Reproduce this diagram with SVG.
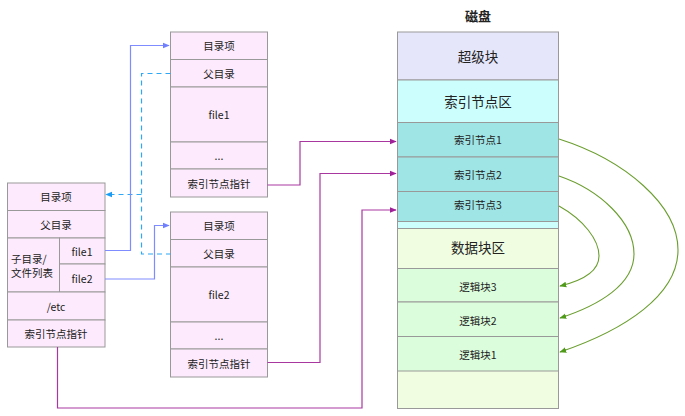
<svg xmlns="http://www.w3.org/2000/svg" width="685" height="416" viewBox="0 0 685 416">
<defs>
<style>
text{font-family:"Noto Sans CJK SC","Liberation Sans",sans-serif;fill:#222;text-anchor:middle;dominant-baseline:central}
.s{font-size:10.5px}
.h{font-size:13.5px}
.cell{stroke:#999;stroke-width:1}
.pk{fill:#fdebfd}
.sb{fill:#e6e6fb}
.ic{fill:#ccfefe}
.in{fill:#a0e5e5}
.dz{fill:#f0fde0}
.lb{fill:#dbfddb}
.pu{fill:none;stroke:#a8389f;stroke-width:1.2}
.bl{fill:none;stroke:#7f8cff;stroke-width:1.2}
.da{fill:none;stroke:#2ea7f5;stroke-width:1.2;stroke-dasharray:5,4}
.gr{fill:none;stroke:#6a9e2e;stroke-width:1.1}
</style>
<marker id="ap" viewBox="0 0 10 10" refX="9" refY="5" markerWidth="7" markerHeight="7" orient="auto" markerUnits="userSpaceOnUse"><path d="M0,1 L10,5 L0,9 Z" fill="#a0209a"/></marker>
<marker id="ab" viewBox="0 0 10 10" refX="9" refY="5" markerWidth="7" markerHeight="7" orient="auto" markerUnits="userSpaceOnUse"><path d="M0,1 L10,5 L0,9 Z" fill="#6f7fff"/></marker>
<marker id="ad" viewBox="0 0 10 10" refX="9" refY="5" markerWidth="7" markerHeight="7" orient="auto" markerUnits="userSpaceOnUse"><path d="M0,1 L10,5 L0,9 Z" fill="#1a9cf5"/></marker>
<marker id="ag" viewBox="0 0 10 10" refX="9" refY="5" markerWidth="7" markerHeight="7" orient="auto" markerUnits="userSpaceOnUse"><path d="M0,1 L10,5 L0,9 Z" fill="#4f9a1a"/></marker>
</defs>

<g id="root-dir">
<rect class="cell pk" x="7.5" y="183" width="97.5" height="27.5"/>
<text class="s" x="56" y="196.5">目录项</text>
<rect class="cell pk" x="7.5" y="210.5" width="97.5" height="27.5"/>
<text class="s" x="56" y="224">父目录</text>
<rect class="cell pk" x="7.5" y="238" width="52" height="54"/>
<text class="s" x="33" y="258" style="text-anchor:start" dx="-22">子目录/</text>
<text class="s" x="33" y="272" style="text-anchor:start" dx="-22">文件列表</text>
<rect class="cell pk" x="59.5" y="238" width="45.5" height="26"/>
<text class="s" x="82" y="251">file1</text>
<rect class="cell pk" x="59.5" y="264" width="45.5" height="28"/>
<text class="s" x="82" y="278">file2</text>
<rect class="cell pk" x="7.5" y="292" width="97.5" height="28"/>
<text class="s" x="56" y="306">/etc</text>
<rect class="cell pk" x="7.5" y="320" width="97.5" height="27"/>
<text class="s" x="56" y="333.5">索引节点指针</text>
</g>

<g id="file1-entry">
<rect class="cell pk" x="170.5" y="32" width="97" height="27.5"/>
<text class="s" x="219" y="45.5">目录项</text>
<rect class="cell pk" x="170.5" y="59.5" width="97" height="27.5"/>
<text class="s" x="219" y="73">父目录</text>
<rect class="cell pk" x="170.5" y="87" width="97" height="55"/>
<text class="s" x="219" y="114.5">file1</text>
<rect class="cell pk" x="170.5" y="142" width="97" height="27"/>
<text class="s" x="219" y="155.5">...</text>
<rect class="cell pk" x="170.5" y="169" width="97" height="28"/>
<text class="s" x="219" y="183">索引节点指针</text>
</g>

<g id="file2-entry">
<rect class="cell pk" x="170.5" y="212" width="97" height="27.5"/>
<text class="s" x="219" y="225.5">目录项</text>
<rect class="cell pk" x="170.5" y="239.5" width="97" height="27.5"/>
<text class="s" x="219" y="253">父目录</text>
<rect class="cell pk" x="170.5" y="267" width="97" height="55"/>
<text class="s" x="219" y="294.5">file2</text>
<rect class="cell pk" x="170.5" y="322" width="97" height="27"/>
<text class="s" x="219" y="335.5">...</text>
<rect class="cell pk" x="170.5" y="349" width="97" height="28"/>
<text class="s" x="219" y="363">索引节点指针</text>
</g>

<g id="disk">
<text x="478" y="15" style="font-size:13px;font-weight:bold">磁盘</text>
<rect class="cell sb" x="397.5" y="32" width="161" height="48"/>
<text class="h" x="478" y="56">超级块</text>
<rect class="cell ic" x="397.5" y="80" width="161" height="148.5"/>
<text class="h" x="478" y="101">索引节点区</text>
<rect class="cell in" x="397.5" y="122.5" width="161" height="34.5"/>
<text class="s" x="478" y="139.5">索引节点1</text>
<rect class="cell in" x="397.5" y="157" width="161" height="34.5"/>
<text class="s" x="478" y="174">索引节点2</text>
<rect class="cell in" x="397.5" y="191.5" width="161" height="30"/>
<text class="s" x="478" y="204">索引节点3</text>
<rect class="cell dz" x="397.5" y="228.5" width="161" height="180"/>
<text class="h" x="478" y="247">数据块区</text>
<rect class="cell lb" x="397.5" y="268.5" width="161" height="33.5"/>
<text class="s" x="478" y="286">逻辑块3</text>
<rect class="cell lb" x="397.5" y="302" width="161" height="34.5"/>
<text class="s" x="478" y="320">逻辑块2</text>
<rect class="cell lb" x="397.5" y="336.5" width="161" height="34.5"/>
<text class="s" x="478" y="354">逻辑块1</text>
</g>

<g id="connectors">
<path class="pu" d="M267.5,185 H300 V141.5 H396" marker-end="url(#ap)"/>
<path class="pu" d="M267.5,362.5 H320 V173.5 H396" marker-end="url(#ap)"/>
<path class="pu" d="M57.5,347 V408 H362 V210 H396" marker-end="url(#ap)"/>
<path class="da" d="M170.5,73.5 H141.5 V254 H170.5"/>
<path class="da" d="M141.5,194.5 H106" marker-end="url(#ad)"/>
<path class="bl" d="M105,250.5 H130.5 V45.5 H169" marker-end="url(#ab)"/>
<path class="bl" d="M105,279 H154.5 V225.5 H169" marker-end="url(#ab)"/>
<path class="gr" d="M559,139 C625,160 678,205 678,250 C678,295 625,330 560,352" marker-end="url(#ag)"/>
<path class="gr" d="M559,176 C600,190 634,222 634,254 C634,284 600,305 560,318" marker-end="url(#ag)"/>
<path class="gr" d="M559,206 C584,220 599,240 599,256 C599,270 585,280 560,286" marker-end="url(#ag)"/>
</g>
</svg>
